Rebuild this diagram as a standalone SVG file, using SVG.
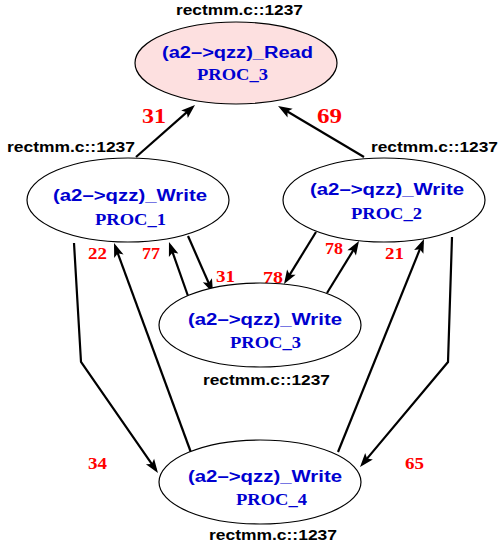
<svg xmlns="http://www.w3.org/2000/svg" width="498" height="550" viewBox="0 0 498 550">
<style>
.node ellipse{stroke:#000;stroke-width:1.2;fill:#fff}
.node.read ellipse{fill:#fde0e0}
.fn{font-family:"Liberation Sans",Arial,sans-serif;font-weight:bold;font-size:16px;fill:#0000d0}
.proc{font-family:"Liberation Serif","Times New Roman",serif;font-weight:bold;font-size:16px;fill:#0000d0}
.loc{font-family:"Liberation Sans",Arial,sans-serif;font-weight:bold;font-size:14px;fill:#000}
.edges path{fill:none;stroke:#000;stroke-width:2.2;marker-end:url(#ah)}
.num{font-family:"Liberation Serif","Times New Roman",serif;font-weight:bold;fill:#ff0000}
.big{font-size:22px}
.small{font-size:16px}
</style>
<defs>
<marker id="ah" markerUnits="userSpaceOnUse" markerWidth="16" markerHeight="12" refX="10" refY="5" orient="auto" overflow="visible">
<path d="M0,0 L14,5 L0,10 L3,5 z" fill="#000"/>
</marker>
</defs>
<g class="edges" id="edges">
<path d="M136,157 L192,107.6"/>
<path d="M364,157 L281.5,108"/>
<path d="M74,243 L81,362 L155.7,469.7"/>
<path d="M193,458 L115.4,246.8"/>
<path d="M188,296 L170.3,245.8"/>
<path d="M188,236 L211.4,289.3"/>
<path d="M316,232 L286.1,280.6"/>
<path d="M327,293 L356.9,244.4"/>
<path d="M338,452 L422.5,242.7"/>
<path d="M452,237 L448,362 L362.6,463.9"/>
</g>
<g id="edge-labels">
<text class="num big" x="142" y="123" textLength="24" lengthAdjust="spacingAndGlyphs">31</text>
<text class="num big" x="317" y="123" textLength="25" lengthAdjust="spacingAndGlyphs">69</text>
<text class="num small" x="88" y="259" textLength="19" lengthAdjust="spacingAndGlyphs">22</text>
<text class="num small" x="142" y="259" textLength="18" lengthAdjust="spacingAndGlyphs">77</text>
<text class="num small" x="216" y="282" textLength="19" lengthAdjust="spacingAndGlyphs">31</text>
<text class="num small" x="263" y="283" textLength="20" lengthAdjust="spacingAndGlyphs">78</text>
<text class="num small" x="325" y="254" textLength="18" lengthAdjust="spacingAndGlyphs">78</text>
<text class="num small" x="385" y="259" textLength="19" lengthAdjust="spacingAndGlyphs">21</text>
<text class="num small" x="88" y="469" textLength="19" lengthAdjust="spacingAndGlyphs">34</text>
<text class="num small" x="405" y="469" textLength="19" lengthAdjust="spacingAndGlyphs">65</text>
</g>
<g class="node read" id="read_proc3">
<ellipse cx="236" cy="63" rx="101" ry="41"/>
<text class="fn" x="162" y="58" textLength="151" lengthAdjust="spacingAndGlyphs">(a2–&gt;qzz)_Read</text>
<text class="proc" x="197" y="80" textLength="71" lengthAdjust="spacingAndGlyphs">PROC_3</text>
<text class="loc" x="176" y="15" textLength="127" lengthAdjust="spacingAndGlyphs">rectmm.c::1237</text>
</g>
<g class="node" id="write_proc1">
<ellipse cx="128" cy="200" rx="101" ry="42"/>
<text class="fn" x="53" y="201" textLength="154" lengthAdjust="spacingAndGlyphs">(a2–&gt;qzz)_Write</text>
<text class="proc" x="95" y="225" textLength="71" lengthAdjust="spacingAndGlyphs">PROC_1</text>
<text class="loc" x="7" y="152" textLength="128" lengthAdjust="spacingAndGlyphs">rectmm.c::1237</text>
</g>
<g class="node" id="write_proc2">
<ellipse cx="384" cy="200" rx="101" ry="42"/>
<text class="fn" x="310" y="195" textLength="154" lengthAdjust="spacingAndGlyphs">(a2–&gt;qzz)_Write</text>
<text class="proc" x="351" y="219" textLength="71" lengthAdjust="spacingAndGlyphs">PROC_2</text>
<text class="loc" x="371" y="152" textLength="127" lengthAdjust="spacingAndGlyphs">rectmm.c::1237</text>
</g>
<g class="node" id="write_proc3">
<ellipse cx="260" cy="325" rx="101" ry="42"/>
<text class="fn" x="188" y="325" textLength="154" lengthAdjust="spacingAndGlyphs">(a2–&gt;qzz)_Write</text>
<text class="proc" x="230" y="348" textLength="71" lengthAdjust="spacingAndGlyphs">PROC_3</text>
<text class="loc" x="203" y="385" textLength="127" lengthAdjust="spacingAndGlyphs">rectmm.c::1237</text>
</g>
<g class="node" id="write_proc4">
<ellipse cx="260" cy="482" rx="101" ry="42"/>
<text class="fn" x="188" y="482" textLength="154" lengthAdjust="spacingAndGlyphs">(a2–&gt;qzz)_Write</text>
<text class="proc" x="236" y="505" textLength="71" lengthAdjust="spacingAndGlyphs">PROC_4</text>
<text class="loc" x="209" y="540" textLength="128" lengthAdjust="spacingAndGlyphs">rectmm.c::1237</text>
</g>
</svg>
